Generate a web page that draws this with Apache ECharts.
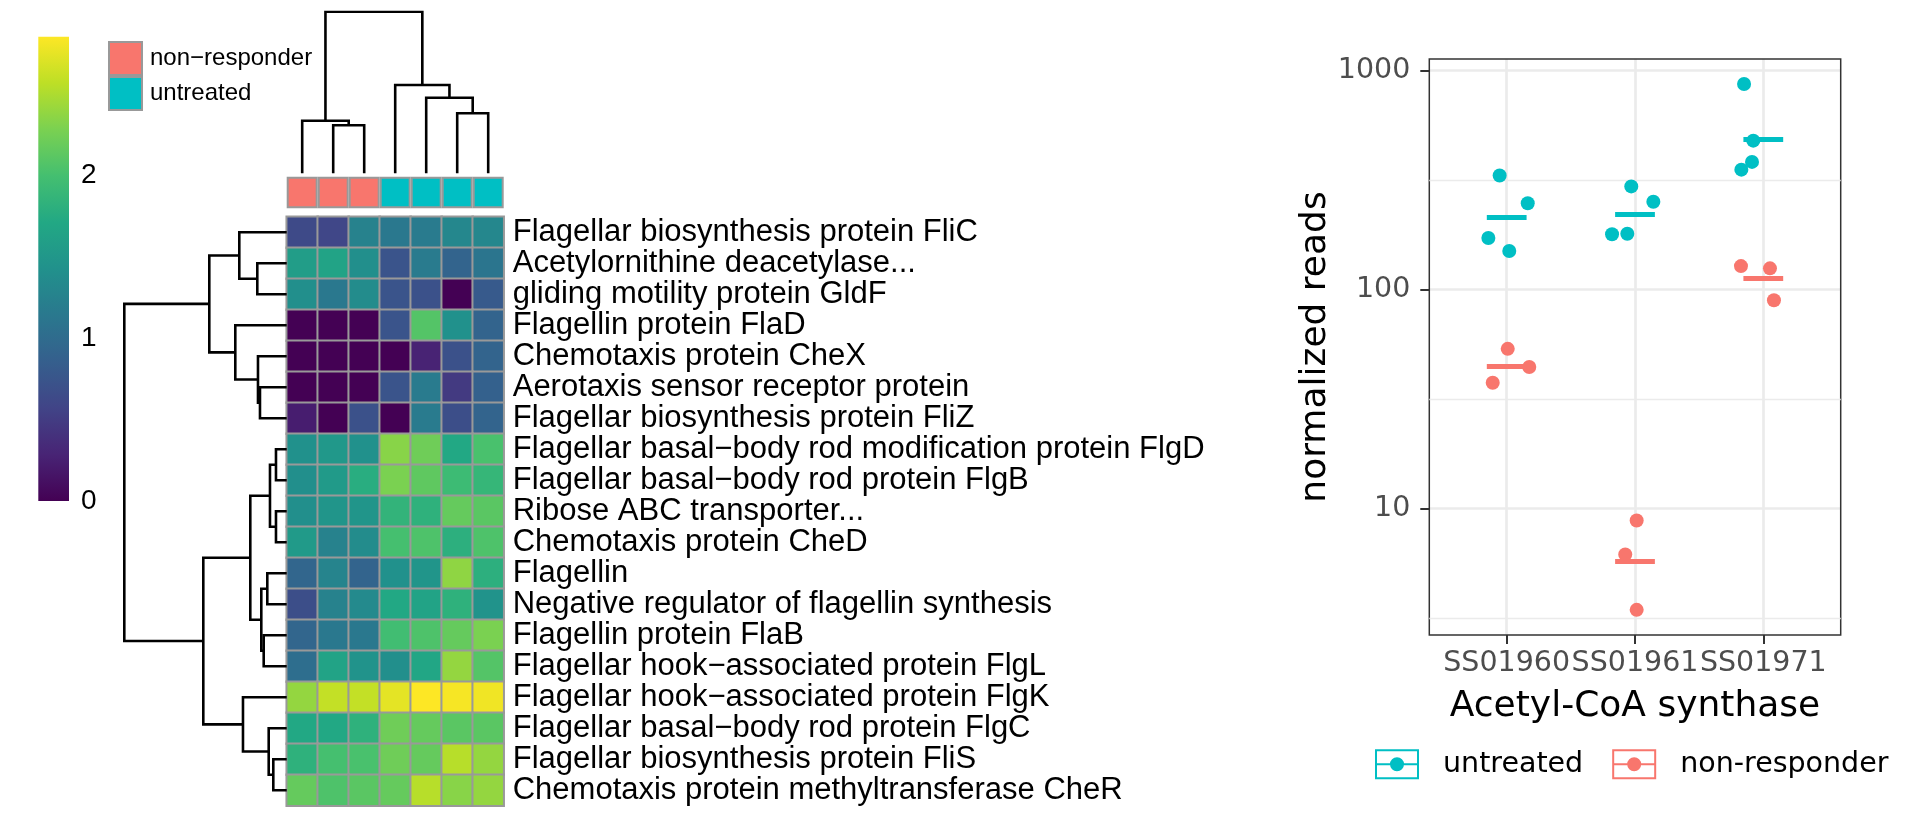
<!DOCTYPE html>
<html><head><meta charset="utf-8">
<script src="https://cdn.jsdelivr.net/npm/echarts@6/dist/echarts.min.js"></script>
<style>html,body{margin:0;padding:0;background:#fff}#c{width:1920px;height:823px}</style>
</head><body><div id="c"></div>
<script>
// ---------- heatmap data ----------
const sampleNames = ['NR1', 'NR2', 'NR3', 'U1', 'U2', 'U3', 'U4'];
const sampleGroups = ['non−responder', 'non−responder', 'non−responder', 'untreated', 'untreated', 'untreated', 'untreated'];
const annotationGroups = ['non−responder', 'untreated'];
const annotationColors = ['#F8766D', '#00BFC4'];
const rowLabels = [
  'Flagellar biosynthesis protein FliC',
  'Acetylornithine deacetylase...',
  'gliding motility protein GldF',
  'Flagellin protein FlaD',
  'Chemotaxis protein CheX',
  'Aerotaxis sensor receptor protein',
  'Flagellar biosynthesis protein FliZ',
  'Flagellar basal−body rod modification protein FlgD',
  'Flagellar basal−body rod protein FlgB',
  'Ribose ABC transporter...',
  'Chemotaxis protein CheD',
  'Flagellin',
  'Negative regulator of flagellin synthesis',
  'Flagellin protein FlaB',
  'Flagellar hook−associated protein FlgL',
  'Flagellar hook−associated protein FlgK',
  'Flagellar basal−body rod protein FlgC',
  'Flagellar biosynthesis protein FliS',
  'Chemotaxis protein methyltransferase CheR'
];
const heatValues = [
  [0.63, 0.60, 1.25, 1.14, 1.17, 1.31, 1.31],
  [1.57, 1.65, 1.40, 0.74, 1.17, 0.91, 1.11],
  [1.40, 1.14, 1.37, 0.74, 0.71, 0.00, 0.80],
  [0.00, 0.00, 0.00, 0.74, 2.08, 1.43, 0.91],
  [0.00, 0.00, 0.00, 0.00, 0.28, 0.71, 0.91],
  [0.00, 0.00, 0.00, 0.74, 1.17, 0.48, 0.88],
  [0.23, 0.00, 0.71, 0.00, 1.17, 0.68, 0.91],
  [1.43, 1.51, 1.43, 2.34, 2.22, 1.71, 2.02],
  [1.40, 1.54, 1.77, 2.28, 2.14, 1.94, 1.88],
  [1.40, 1.48, 1.48, 1.85, 1.82, 2.17, 2.11],
  [1.54, 1.25, 1.37, 2.00, 2.05, 1.80, 2.05],
  [0.94, 1.28, 0.91, 1.43, 1.48, 2.37, 1.80],
  [0.68, 1.25, 1.34, 1.71, 1.65, 1.82, 1.45],
  [0.94, 1.14, 1.14, 1.97, 2.05, 2.17, 2.28],
  [1.03, 1.65, 1.45, 1.40, 1.68, 2.39, 2.08],
  [2.39, 2.59, 2.59, 2.74, 2.85, 2.82, 2.79],
  [1.71, 1.71, 1.82, 2.22, 2.17, 2.11, 2.11],
  [1.82, 2.00, 2.02, 2.22, 2.17, 2.54, 2.39],
  [2.17, 2.05, 2.11, 2.17, 2.54, 2.34, 2.39]
];
// hclust-style merges (negative = leaf, 1-based; positive = earlier merge)
const rowMerge = [[-2, -3], [-1, 1], [-6, -7], [-5, 3], [-4, 4], [2, 5], [-8, -9], [-10, -11], [7, 8],
  [-12, -13], [-14, -15], [10, 11], [9, 12], [-18, -19], [-17, 14], [-16, 15], [13, 16], [6, 17]];
const rowHeight = [0.735, 1.185, 0.668, 0.718, 1.285, 1.935, 0.268, 0.268, 0.418,
  0.485, 0.575, 0.635, 0.91, 0.335, 0.45, 1.093, 2.085, 4.06];
const colMerge = [[-2, -3], [-1, 1], [-6, -7], [-5, 3], [-4, 4], [2, 5]];
const colHeight = [1.2, 1.315, 1.5, 1.89, 2.208, 4.04];
const viridis = ['#440154', '#482475', '#414487', '#355f8d', '#2a788e', '#21918c', '#22a884', '#44bf70', '#7ad151', '#bddf26', '#fde725'];

// ---------- dot plot data ----------
const genes = ['SS01960', 'SS01961', 'SS01971'];
const untreatedGene = [0, 0, 0, 0, 1, 1, 1, 1, 2, 2, 2, 2];
const untreatedJitter = [-0.055, 0.164, -0.143, 0.020, -0.029, 0.143, -0.179, -0.060, -0.150, -0.078, -0.088, -0.171];
const untreatedReads = [332, 248, 172, 150, 296, 252, 179, 180, 869, 479, 383, 353];
const nrGene = [0, 0, 0, 1, 1, 1, 2, 2, 2];
const nrJitter = [0.008, 0.176, -0.109, 0.013, -0.076, 0.013, -0.174, 0.052, 0.083];
const nrReads = [53.6, 44.3, 37.5, 8.81, 6.16, 3.44, 128, 125, 89.3];
const yTicks = [10, 100, 1000];
const yMinorBreaks = [3.162, 31.62, 316.2];
const yRange = [2.64, 1131];

const TEAL = '#00BFC4', SALMON = '#F8766D';
const HELV = "'Liberation Sans', Arial, Helvetica, sans-serif";
const DEJA = "'DejaVu Sans', 'Noto Sans', sans-serif";

// ---------- helpers ----------
function dendro(merge, heights, orient) {
  const pos = [], hh = [];
  const get = k => k < 0 ? [-k - 1, 0] : [pos[k - 1], hh[k - 1]];
  return merge.map((m, i) => {
    const [pa, ha] = get(m[0]);
    const [pb, hb] = get(m[1]);
    const H = heights[i];
    pos.push((pa + pb) / 2); hh.push(H);
    let pts = [[pa, ha], [pa, H], [pb, H], [pb, hb]];
    if (orient === 'row') pts = pts.map(p => [p[1], p[0]]);
    return { coords: pts };
  });
}
function crossbars(geneIdx, reads) {
  return genes.map((g, gi) => {
    const v = reads.filter((r, i) => geneIdx[i] === gi).map(r => Math.log10(r));
    const m = Math.pow(10, v.reduce((a, b) => a + b, 0) / v.length);
    return { coords: [[gi - 0.155, m], [gi + 0.155, m]] };
  });
}
const heatData = [];
heatValues.forEach((row, r) => row.forEach((v, c) => heatData.push([c, r, v])));
const colorMax = Math.max(...heatValues.flat());
const rowRoot = Math.max(...rowHeight), colRoot = Math.max(...colHeight);
const keyIcon = 'path://M0 0H44V30H0Z M2 2V28H42V2Z M2 14H42V16H2Z M15 15A7 7 0 1 1 29 15A7 7 0 1 1 15 15Z';

const chart = echarts.init(document.getElementById('c'), null, { renderer: 'canvas' });
const option = {
  animation: false,
  backgroundColor: '#ffffff',
  textStyle: { fontFamily: HELV },
  grid: [
    { left: 286.7, top: 216.7, width: 217, height: 589 },          // 0 heatmap
    { left: 286.7, top: 176.7, width: 217, height: 31.6 },         // 1 annotation
    { left: 286.7, top: 11.7, width: 217, height: 161.6 },         // 2 col dendrogram
    { left: 124.3, top: 216.7, width: 162.4, height: 589 },        // 3 row dendrogram
    { left: 38.3, top: 36.7, width: 30.7, height: 464.3 },         // 4 colour bar
    { left: 1429.3, top: 59, width: 411.4, height: 576, show: true, borderColor: '#333333', borderWidth: 1.5, z: 3, backgroundColor: 'transparent' }, // 5 panel
    { left: 1506.7, top: 59, width: 256.6, height: 576 }           // 6 data
  ],
  xAxis: [
    { gridIndex: 0, type: 'category', data: sampleNames, show: false },
    { gridIndex: 1, type: 'category', data: sampleNames, show: false },
    { gridIndex: 2, type: 'value', min: -0.5, max: sampleNames.length - 0.5, show: false },
    { gridIndex: 3, type: 'value', min: 0, max: rowRoot, inverse: true, show: false },
    { gridIndex: 4, type: 'category', data: [''], show: false },
    { gridIndex: 5, type: 'value', min: 0, max: 1, show: false },
    { gridIndex: 6, type: 'value', min: 0, max: genes.length - 1, interval: 1,
      axisLine: { show: false },
      axisTick: { show: true, length: 9, lineStyle: { color: '#333333', width: 2 } },
      axisLabel: { formatter: v => genes[v] || '', fontSize: 28.5, color: '#4D4D4D', fontFamily: DEJA, margin: 14 },
      splitLine: { show: true, lineStyle: { color: '#EBEBEB', width: 2.7 } },
      name: 'Acetyl-CoA synthase', nameLocation: 'middle', nameGap: 54,
      nameTextStyle: { fontSize: 36, color: '#000', fontFamily: DEJA } }
  ],
  yAxis: [
    { gridIndex: 0, type: 'category', data: rowLabels, inverse: true, position: 'right',
      axisLine: { show: false }, axisTick: { show: false }, splitLine: { show: false },
      axisLabel: { interval: 0, fontSize: 31, color: '#000', fontFamily: HELV, margin: 9 } },
    { gridIndex: 1, type: 'value', min: 0, max: 1, show: false },
    { gridIndex: 2, type: 'value', min: 0, max: colRoot, show: false },
    { gridIndex: 3, type: 'value', min: -0.5, max: rowLabels.length - 0.5, inverse: true, show: false },
    { gridIndex: 4, type: 'value', min: 0, max: colorMax, interval: 1, position: 'right',
      axisLine: { show: false }, axisTick: { show: false }, splitLine: { show: false },
      axisLabel: { fontSize: 28, color: '#000', fontFamily: HELV, margin: 12,
        formatter: v => Math.abs(v - Math.round(v)) < 1e-6 ? String(Math.round(v)) : '' } },
    { gridIndex: 5, type: 'log', logBase: 10, min: yRange[0], max: yRange[1],
      axisLine: { show: false },
      axisTick: { show: true, length: 9, customValues: yTicks, lineStyle: { color: '#333333', width: 2 } },
      axisLabel: { customValues: yTicks, formatter: v => String(Math.round(v)), fontSize: 28.5, color: '#4D4D4D', fontFamily: DEJA, margin: 19 },
      splitLine: { show: true, lineStyle: { color: '#EBEBEB', width: 2.7 } },
      name: 'normalized reads', nameLocation: 'middle', nameGap: 92,
      nameTextStyle: { fontSize: 36, color: '#000', fontFamily: DEJA } },
    { gridIndex: 6, type: 'log', logBase: 10, min: yRange[0], max: yRange[1], show: false }
  ],
  visualMap: [{ type: 'continuous', show: false, seriesIndex: 0, min: 0, max: colorMax, inRange: { color: viridis } }],
  legend: [
    { orient: 'vertical', left: 108, top: 41, padding: 0, itemWidth: 33, itemHeight: 33, itemGap: 0, selectedMode: false,
      textStyle: { fontSize: 24, color: '#000', fontFamily: HELV, padding: [0, 0, 0, 3] },
      data: annotationGroups.map((g, i) => ({ name: g, icon: 'rect', itemStyle: { color: annotationColors[i], borderColor: '#999999', borderWidth: 2 } })) },
    { orient: 'horizontal', left: 1375, top: 749.3, padding: 0, itemWidth: 44, itemHeight: 30, itemGap: 29, selectedMode: false,
      textStyle: { fontSize: 28.5, color: '#000', fontFamily: DEJA, padding: [0, 0, 0, 19] },
      data: [
        { name: 'untreated', icon: keyIcon, itemStyle: { color: TEAL, borderWidth: 0 } },
        { name: 'non-responder', icon: keyIcon, itemStyle: { color: SALMON, borderWidth: 0 } }
      ] }
  ],
  series: [
    { type: 'heatmap', xAxisIndex: 0, yAxisIndex: 0, data: heatData, silent: true,
      itemStyle: { borderColor: '#999999', borderWidth: 2 } },
    ...annotationGroups.map((g, gi) => ({
      type: 'bar', name: g, xAxisIndex: 1, yAxisIndex: 1, barWidth: '100%', barGap: '-100%', silent: true,
      data: sampleGroups.map(s => s === g ? 1 : '-'),
      itemStyle: { color: annotationColors[gi], borderColor: '#999999', borderWidth: 2 }
    })),
    { type: 'lines', coordinateSystem: 'cartesian2d', xAxisIndex: 2, yAxisIndex: 2, polyline: true, silent: true,
      lineStyle: { color: '#000', width: 2.6, opacity: 1 }, data: dendro(colMerge, colHeight, 'col') },
    { type: 'lines', coordinateSystem: 'cartesian2d', xAxisIndex: 3, yAxisIndex: 3, polyline: true, silent: true,
      lineStyle: { color: '#000', width: 2.6, opacity: 1 }, data: dendro(rowMerge, rowHeight, 'row') },
    { type: 'bar', xAxisIndex: 4, yAxisIndex: 4, barWidth: '100%', silent: true, data: [colorMax],
      itemStyle: { color: new echarts.graphic.LinearGradient(0, 0, 0, 1,
        viridis.slice().reverse().map((c, i, a) => ({ offset: i / (a.length - 1), color: c }))) } },
    { type: 'scatter', xAxisIndex: 5, yAxisIndex: 5, data: [], z: 1, silent: true,
      markLine: { silent: true, symbol: 'none', label: { show: false }, animation: false,
        lineStyle: { color: '#EBEBEB', width: 1.4, type: 'solid' },
        data: yMinorBreaks.map(v => ({ yAxis: v })) } },
    { type: 'scatter', name: 'untreated', xAxisIndex: 6, yAxisIndex: 6, clip: false, z: 5, symbolSize: 14,
      itemStyle: { color: TEAL, opacity: 1 },
      data: untreatedReads.map((r, i) => [untreatedGene[i] + untreatedJitter[i], r]) },
    { type: 'scatter', name: 'non-responder', xAxisIndex: 6, yAxisIndex: 6, clip: false, z: 5, symbolSize: 14,
      itemStyle: { color: SALMON, opacity: 1 },
      data: nrReads.map((r, i) => [nrGene[i] + nrJitter[i], r]) },
    { type: 'lines', name: 'untreated', coordinateSystem: 'cartesian2d', xAxisIndex: 6, yAxisIndex: 6, z: 6, silent: true, clip: false,
      lineStyle: { color: TEAL, width: 5, opacity: 1, cap: 'butt' }, data: crossbars(untreatedGene, untreatedReads) },
    { type: 'lines', name: 'non-responder', coordinateSystem: 'cartesian2d', xAxisIndex: 6, yAxisIndex: 6, z: 6, silent: true, clip: false,
      lineStyle: { color: SALMON, width: 5, opacity: 1, cap: 'butt' }, data: crossbars(nrGene, nrReads) }
  ]
};
chart.setOption(option);
</script>
</body></html>
